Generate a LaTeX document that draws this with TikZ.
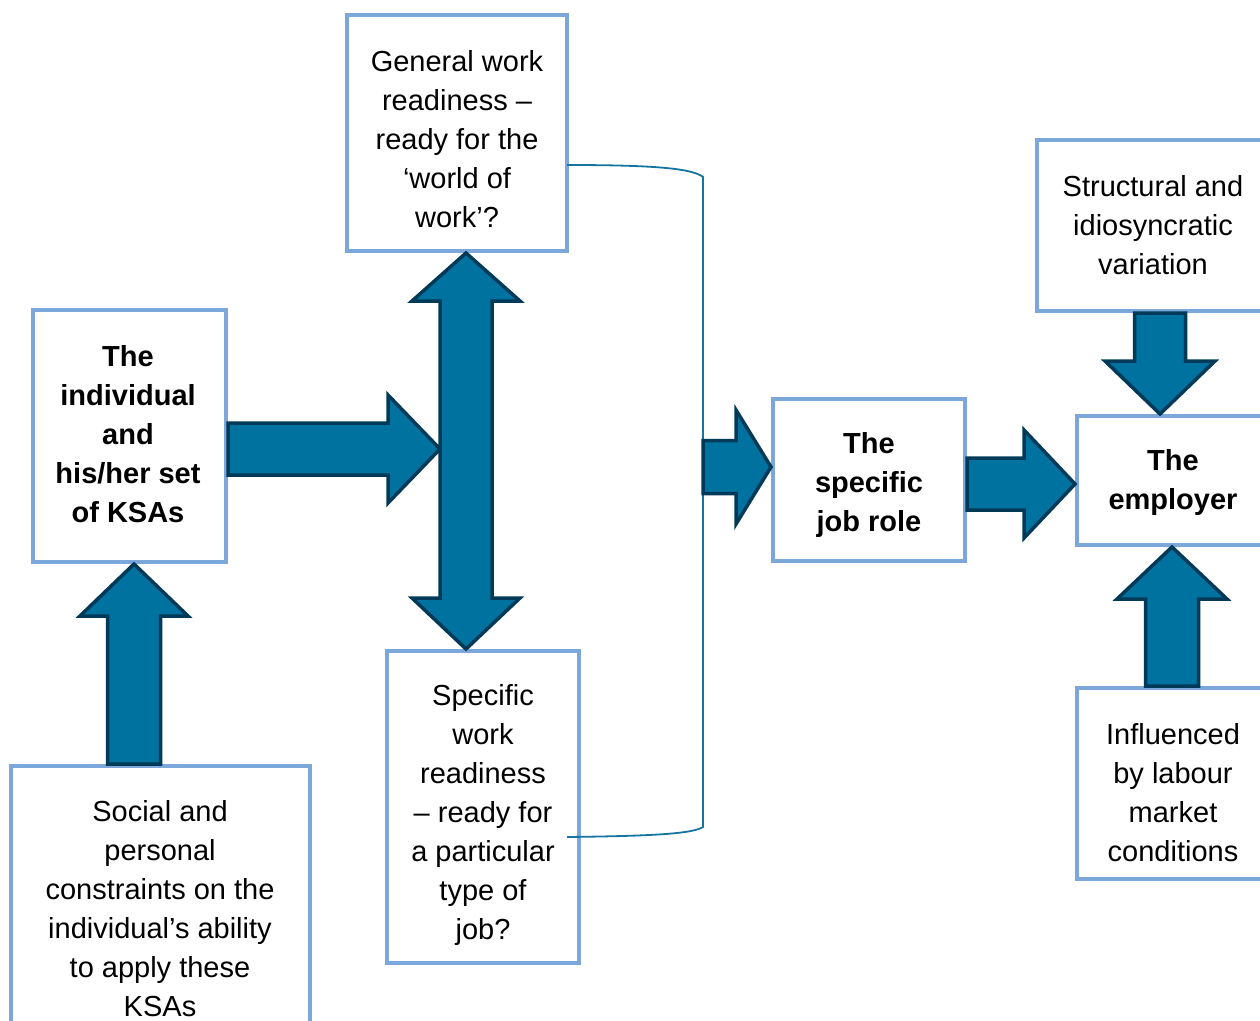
\documentclass[tikz,border=0pt]{standalone}
\usepackage{fontspec}
\setmainfont{Liberation Sans}
\usetikzlibrary{calc}
\definecolor{boxblue}{HTML}{7BA7DA}
\definecolor{arrfill}{HTML}{00729F}
\definecolor{arrline}{HTML}{003A58}
\definecolor{brk}{HTML}{1574A0}
\tikzset{
  frame/.style={draw=boxblue, line width=4pt, fill=white, rectangle, inner sep=0pt},
  txt/.style={align=center, inner sep=0pt, font=\fontsize{29}{39}\selectfont},
  btxt/.style={txt, font=\fontsize{29}{39}\selectfont\bfseries},
  blk/.style={fill=arrfill, draw=arrline, line width=3.5pt, line join=miter},
  bracket/.style={draw=brk, line width=1.8pt}
}
% single block arrow: #1 start, #2 tip, #3 shaft half width, #4 head half width, #5 head length
\newcommand{\blockarr}[5]{%
  \coordinate (tmpH) at ($(#2)!#5!(#1)$);
  \draw[blk] ($(#1)!#3!90:(#2)$) -- ($(tmpH)!#3!90:(#2)$) -- ($(tmpH)!#4!90:(#2)$) -- (#2)
     -- ($(tmpH)!#4!-90:(#2)$) -- ($(tmpH)!#3!-90:(#2)$) -- ($(#1)!#3!-90:(#2)$) -- cycle;
}
\begin{document}
\begin{tikzpicture}[x=1pt,y=-1pt]
\useasboundingbox (0,0) rectangle (1260,1020);
\clip (0,0) rectangle (1260,1020);

% boxes
\node[frame, minimum width=220pt, minimum height=236pt] (gen) at (457,133) {};
\node[frame, minimum width=193pt, minimum height=252pt] (ind) at (129.5,436) {};
\node[frame, minimum width=299pt, minimum height=290pt] (soc) at (160.5,911) {};
\node[frame, minimum width=192pt, minimum height=312pt] (spw) at (483,807) {};
\node[frame, minimum width=192pt, minimum height=162pt] (job) at (869,480) {};
\node[frame, minimum width=232pt, minimum height=171pt] (str) at (1153,225.5) {};
\node[frame, minimum width=192pt, minimum height=129pt] (emp) at (1173,480.5) {};
\node[frame, minimum width=192pt, minimum height=191pt] (inf) at (1173,783.5) {};

% texts
\node[txt] (gent) at (457,139) {General work\\readiness –\\ready for the\\‘world of\\work’?};
\node[btxt] (indt) at (128,434) {The\\individual\\and\\his/her set\\of KSAs};
\node[txt] (soct) at (160,909) {Social and\\personal\\constraints on the\\individual’s ability\\to apply these\\KSAs};
\node[txt] (spwt) at (483,815) {Specific\\work\\readiness\\– ready for\\a particular\\type of\\job?};
\node[btxt] (jobt) at (869,485) {The\\specific\\job role};
\node[txt] (strt) at (1153,225) {Structural and\\idiosyncratic\\variation};
\node[btxt] (empt) at (1173,482) {The\\employer};
\node[txt] (inft) at (1173,793) {Influenced\\by labour\\market\\conditions};

% bracket
\coordinate (bt) at (567,165);
\coordinate (bb) at (567,837);
\coordinate (bx1) at (703,177);
\coordinate (bx2) at (703,827);
\draw[bracket] (bt) .. controls (650,165) and (692,168) .. (bx1) -- (bx2)
   .. controls (692,834) and (650,836) .. (bb);

% block arrows
\coordinate (a1s) at (ind.east |- 0,449);
\coordinate (a1t) at (440,449);
\blockarr{a1s}{a1t}{26pt}{54pt}{52pt}

\coordinate (dt) at (gen.south -| 466,0);
\coordinate (db) at (spw.north -| 466,0);
\draw[blk] (440,301) -- (412,301) -- (dt) -- (520,301) -- (492,301) -- (492,598) -- (520,598)
   -- (db) -- (412,598) -- (440,598) -- cycle;

\coordinate (a3s) at (soc.north -| 134,0);
\coordinate (a3t) at (ind.south -| 134,0);
\blockarr{a3s}{a3t}{26.5pt}{54pt}{52pt}

\coordinate (a4s) at (703,467);
\coordinate (a4t) at (job.west |- 0,467);
\blockarr{a4s}{a4t}{26.5pt}{57pt}{35pt}

\coordinate (a5s) at (job.east |- 0,484);
\coordinate (a5t) at (emp.west |- 0,484);
\blockarr{a5s}{a5t}{26pt}{54pt}{51pt}

\coordinate (a6s) at (str.south -| 1160,0);
\coordinate (a6t) at (emp.north -| 1160,0);
\blockarr{a6s}{a6t}{25.5pt}{55pt}{53pt}

\coordinate (a7s) at (inf.north -| 1172,0);
\coordinate (a7t) at (emp.south -| 1172,0);
\blockarr{a7s}{a7t}{26.5pt}{55pt}{52pt}
\end{tikzpicture}
\end{document}
